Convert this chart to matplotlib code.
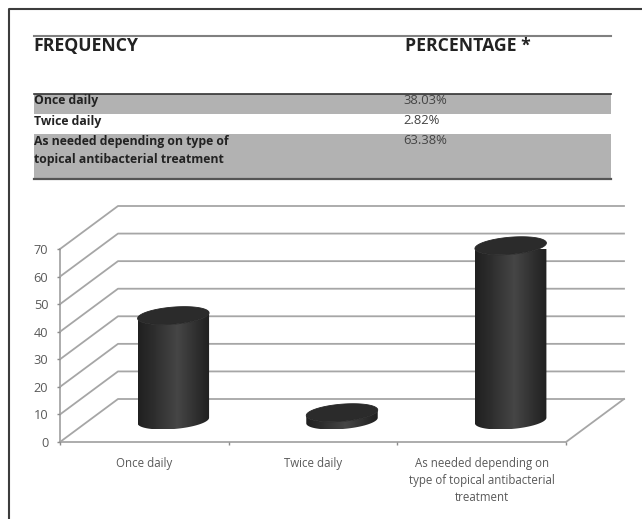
import numpy as np
import matplotlib
matplotlib.use("Agg")
import matplotlib.pyplot as plt
from matplotlib.colors import LinearSegmentedColormap
from matplotlib.patches import Polygon, Rectangle

# Survey results
percentages = [38.03, 2.82, 63.38]
table_labels = ["Once daily", "Twice daily", "As needed depending on type of\ntopical antibacterial treatment"]
axis_labels = ["Once daily", "Twice daily", "As needed depending on\ntype of topical antibacterial\ntreatment"]
y_ticks = [0, 10, 20, 30, 40, 50, 60, 70]

W, H = 642, 519
plt.rcParams["font.family"] = ["Open Sans", "DejaVu Sans"]
fig = plt.figure(figsize=(W / 100, H / 100), dpi=100, facecolor="white")

# Page layer in pixel coordinates: outer frame and summary table
page = fig.add_axes([0, 0, 1, 1])
page.set_xlim(0, W)
page.set_ylim(H, 0)
page.axis("off")
page.plot([8.5, 8.5, W], [H, 8.5, 8.5], color="#3c3c3c", lw=1.5, solid_capstyle="butt")

TL, TR = 33.5, 611
GREY = "#b2b2b2"
page.add_patch(Rectangle((TL, 94), TR - TL, 19.5, fc=GREY, ec="none"))
page.add_patch(Rectangle((TL, 133.5), TR - TL, 44.5, fc=GREY, ec="none"))
page.plot([TL, TR], [36, 36], color="#808080", lw=1.5)
page.plot([TL, TR], [94, 94], color="#333333", lw=1.2)
page.plot([TL, TR], [178.5, 178.5], color="#555555", lw=1.6)

HEAD = "#222222"
page.text(TL, 46, "FREQUENCY", fontsize=12.7, fontweight="bold", color=HEAD, va="center")
page.text(405, 46, "PERCENTAGE *", fontsize=12.7, fontweight="bold", color=HEAD, va="center")
row_y = [100.5, 121, 141]
for label, value, y in zip(table_labels, percentages, row_y):
    for k, line in enumerate(label.split("\n")):
        page.text(TL, y + 18.5 * k, line, fontsize=8.8, fontweight="bold", color=HEAD, va="center")
    page.text(403, y, f"{value:.2f}%", fontsize=9.4, color="#444444", va="center")

# Chart layer: front plane of the pseudo-3D plot, one unit per category along x
AL, AR, A0, A70 = 60, 566, 442, 249
ax = fig.add_axes([AL / W, 1 - A0 / H, (AR - AL) / W, (A0 - A70) / H])
ax.patch.set_alpha(0)
for s in ax.spines.values():
    s.set_visible(False)

px_x = 3 / (AR - AL)
px_y = 70 / (A0 - A70)
DX, DY = 58 * px_x, 43 * px_y  # wall depth in data units

LINE = "#a6a6a6"
LW = 1.3
for v in y_ticks:
    ax.plot([0, DX, 3 + DX], [v, v + DY, v + DY], color=LINE, lw=LW, clip_on=False, zorder=1)
ax.plot([0, 0], [0, 70], color=LINE, lw=LW, clip_on=False, zorder=1)
ax.plot([0, 3, 3 + DX], [0, 0, DY], color=LINE, lw=LW, clip_on=False, zorder=1)

ax.set_xticks([0, 1, 2, 3])
ax.set_xticklabels([])
ax.set_yticks(y_ticks)
ax.tick_params(axis="both", color="#8c8c8c", length=2.5, width=1, labelsize=9.2, labelcolor="#595959")
ax.tick_params(axis="y", pad=6)
for i, label in enumerate(axis_labels):
    ax.annotate(label, (i + 0.5, 0), xytext=(0, -15), textcoords="offset pixels", ha="center", va="top",
                fontsize=8.3, color="#595959", linespacing=1.39, annotation_clip=False)

# Cylinders: an elliptical cap sheared along the depth direction, shaded side to side
cyl = LinearSegmentedColormap.from_list(
    "cyl", [(0, "#202020"), (0.2, "#2c2c2c"), (0.55, "#464646"), (0.85, "#2c2c2c"), (1, "#202020")])
t = np.linspace(0, 2 * np.pi, 241)
ux, vx, vy = 34 * px_x, 11 * px_x, 9 * px_y


def ellipse(cx, cy):
    return np.column_stack([cx + ux * np.cos(t) + vx * np.sin(t), cy + vy * np.sin(t)])


half_w = np.hypot(ux, vx)
for i, value in enumerate(percentages):
    cx = i + 0.5 + DX / 2
    base = DY / 2
    top = base + value
    bottom_e, top_e = ellipse(cx, base), ellipse(cx, top)
    left = np.argmin(bottom_e[:, 0])
    right = np.argmax(bottom_e[:, 0])
    # lower arc of the base between its horizontal extremes, closed along the same arc of the top
    idx = np.arange(left, left + 241) % 241
    lower = idx[: ((right - left) % 241) + 1]
    body = np.vstack([bottom_e[lower], top_e[lower][::-1]])
    side = Polygon(body, closed=True, transform=ax.transData, fc="none", ec="none")
    ax.add_patch(side)
    img = ax.imshow(np.linspace(0, 1, 128).reshape(1, -1), cmap=cyl, aspect="auto", zorder=3,
                    extent=[cx - half_w, cx + half_w, base - vy, top + vy])
    img.set_clip_path(side)
    ax.add_patch(Polygon(top_e, closed=True, fc="#2b2b2b", ec="#262626", lw=0.6, zorder=4, clip_on=False))

ax.set_xlim(0, 3)
ax.set_ylim(0, 70)

fig.savefig("out.png", dpi=100, facecolor="white")
